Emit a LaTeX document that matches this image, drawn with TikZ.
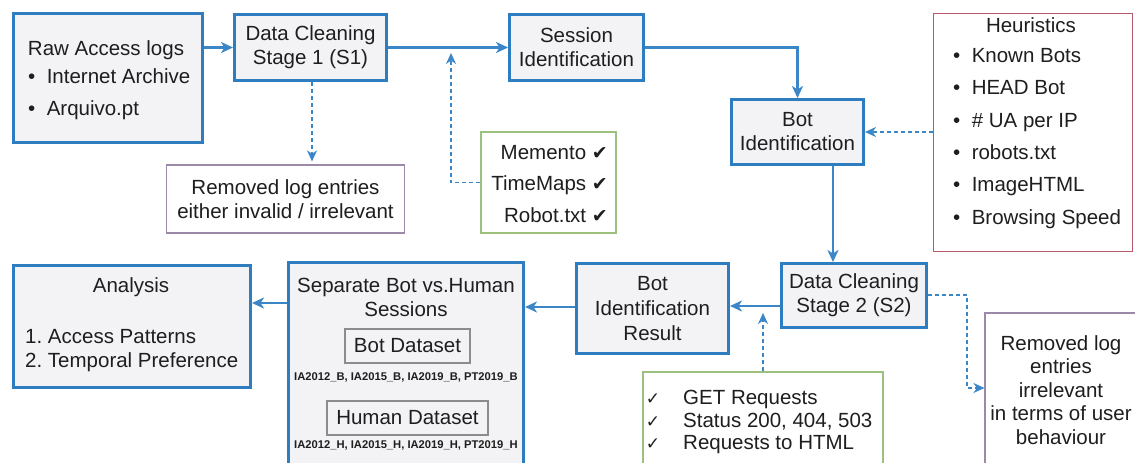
\documentclass[tikz,border=0pt]{standalone}
\usepackage{fontspec}
\setmainfont{Liberation Sans}
\newfontfamily\symfont{DejaVu Sans}
\usetikzlibrary{arrows.meta}
\definecolor{bblue}{HTML}{2E7DC0}
\definecolor{ablue}{HTML}{3A86C6}
\definecolor{bfill}{HTML}{F3F3F6}
\definecolor{rose}{HTML}{B85A6C}
\definecolor{lilac}{HTML}{9C88A8}
\definecolor{lgreen}{HTML}{9CC07E}
\definecolor{dgray}{HTML}{8C8C8C}
\definecolor{txt}{HTML}{1E1E1E}
\frenchspacing
\newcommand\fmain{\fontsize{20.5}{24}\selectfont}
\newcommand\fsmall{\fontsize{11.2}{13}\selectfont\bfseries}
\newcommand\ckb{{\symfont\fontsize{19}{19}\selectfont ✔}}
\newcommand\ckt{{\symfont\fontsize{17}{17}\selectfont ✓}}
\begin{document}
\begin{tikzpicture}[x=1pt,y=-1pt,
  every node/.style={text=txt, font=\fmain},
  bluebox/.style={draw=bblue, line width=3pt, fill=bfill, inner sep=0pt, align=center},
  thinbox/.style={draw=#1, line width=1.2pt, fill=white, inner sep=0pt, align=center},
  dsbox/.style={draw=dgray, line width=1.2pt, fill=bfill, inner sep=0pt},
  tx/.style={inner sep=0pt},
  arr/.style={draw=ablue, line width=2.5pt, -{Stealth[length=12pt,width=11pt,inset=3.5pt]}},
  darr/.style={draw=ablue, line width=1.5pt, dash pattern=on 4pt off 3pt, -{Stealth[length=11pt,width=10pt,inset=3.5pt]}},
]
\useasboundingbox (0,0) rectangle (1135,463);
\fill[white] (0,0) rectangle (1135,463);

% top row
\node[bluebox, minimum width=189pt, minimum height=129pt] (raw) at (107.5,77.5) {};
\node[tx, anchor=base] (rawt) at (106,55.5) {Raw Access logs};
\node[tx, anchor=base west] (rawi1) at (28,83.5) {\textbullet\ \ Internet Archive};
\node[tx, anchor=base west] (rawi2) at (28,115.5) {\textbullet\ \ Arquivo.pt};

\node[bluebox, minimum width=152pt, minimum height=66pt] (dc1) at (310.5,47.5) {Data Cleaning\\Stage 1 (S1)};
\node[bluebox, minimum width=134pt, minimum height=66pt] (session) at (576.5,47.5) {Session\\Identification};
\node[bluebox, minimum width=132pt, minimum height=65pt] (botid) at (797.5,132) {Bot\\Identification};

\node[thinbox=rose, minimum width=199pt, minimum height=238pt] (heur) at (1033,132.5) {};
\node[tx, anchor=base] (heurt) at (1031,32.5) {Heuristics};
\foreach \t [count=\i] in {Known Bots, HEAD Bot, \# UA per IP, robots.txt, ImageHTML, Browsing Speed}
  \node[tx, anchor=base west] (h\i) at (953, 30.2+32.3*\i) {\textbullet\ \ \t};

\node[thinbox=lgreen, minimum width=135pt, minimum height=101pt] (memento) at (548.5,182.5) {};
\node[tx, anchor=base east] (m1t) at (608,159.5) {Memento \ckb};
\node[tx, anchor=base east] (m2t) at (608,190.5) {TimeMaps \ckb};
\node[tx, anchor=base east] (m3t) at (608,222.5) {Robot.txt \ckb};

\node[thinbox=lilac, minimum width=238pt, minimum height=68pt] (removed1) at (285.5,199) {Removed log entries\\either invalid / irrelevant};

% bottom row
\node[bluebox, minimum width=145pt, minimum height=64pt] (dc2) at (854,295.5) {Data Cleaning\\Stage 2 (S2)};
\node[bluebox, minimum width=152pt, minimum height=90pt, font=\fontsize{20.5}{25}\selectfont] (bir) at (652.5,308.5) {Bot\\Identification\\Result};

\node[bluebox, minimum width=235pt, minimum height=215pt] (sep) at (406,370) {};
\node[tx, align=center] (sept) at (406,297.5) {Separate Bot vs.Human\\Sessions};
\node[dsbox, minimum width=125pt, minimum height=34pt] (botds) at (407.5,346) {Bot Dataset};
\node[tx, font=\fsmall] (bl) at (406,377) {IA2012\_B, IA2015\_B, IA2019\_B, PT2019\_B};
\node[dsbox, minimum width=161pt, minimum height=34pt] (humds) at (407.5,418) {Human Dataset};
\node[tx, font=\fsmall] (hl) at (406,445) {IA2012\_H, IA2015\_H, IA2019\_H, PT2019\_H};

\node[bluebox, minimum width=237pt, minimum height=122pt] (analysis) at (132,326.5) {};
\node[tx, anchor=base] (at) at (131,292.5) {Analysis};
\node[tx, anchor=base west] (a1) at (25,343.5) {1. Access Patterns};
\node[tx, anchor=base west] (a2) at (25,367.5) {2. Temporal Preference};

\node[thinbox=lgreen, minimum width=240pt, minimum height=116pt] (get) at (763,430) {};
\node[tx, anchor=base] (g1c) at (653,404) {\ckt};
\node[tx, anchor=base] (g2c) at (653,427) {\ckt};
\node[tx, anchor=base] (g3c) at (653,449) {\ckt};
\node[tx, anchor=base west] (g1) at (683,404.5) {GET Requests};
\node[tx, anchor=base west] (g2) at (683,427.5) {Status 200, 404, 503};
\node[tx, anchor=base west] (g3) at (683,449.5) {Requests to HTML};

\node[thinbox=lilac, minimum width=153pt, minimum height=174pt] (removed2) at (1061.5,400) {};
\node[tx, align=center, font=\fontsize{20.5}{23.5}\selectfont] (r2t) at (1061,390) {Removed log\\entries\\irrelevant\\in terms of user\\behaviour};

% connectors
\draw[arr] (raw.east |- dc1.west) -- (dc1.west);
\draw[arr] (dc1.east) -- (session.west);
\draw[arr] (session.east) -| (botid.north);
\draw[darr] (heur.west |- botid.east) -- (botid.east);
\coordinate (cx) at (833,0);
\draw[arr] (botid.south -| cx) -- (dc2.north -| cx);
\coordinate (yb) at (0,306);
\draw[arr] (dc2.west |- yb) -- (bir.east |- yb);
\coordinate (yc) at (0,307);
\draw[arr] (bir.west |- yc) -- (sep.east |- yc);
\coordinate (yd) at (0,303);
\draw[arr] (sep.west |- yd) -- (analysis.east |- yd);
\coordinate (gt) at (763,313);
\draw[darr] (get.north) -- (gt);
\coordinate (mc1) at (451,182.5);
\coordinate (mc2) at (451,53);
\draw[darr] (memento.west) -- (mc1) -- (mc2);
\coordinate (rx) at (312,0);
\draw[darr, shorten >=3pt] (dc1.south -| rx) -- (removed1.north -| rx);
\coordinate (dd1) at (967,295);
\coordinate (dd2) at (967,388);
\draw[darr] (dc2.east |- dd1) -- (dd1) -- (dd2) -- (removed2.west |- dd2);
\end{tikzpicture}
\end{document}
